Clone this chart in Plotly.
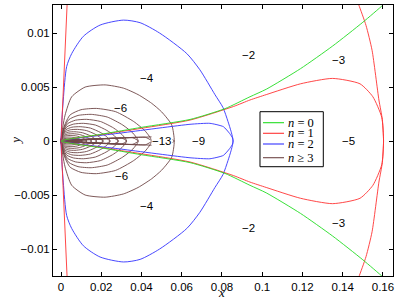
import plotly.graph_objects as go

# ---------------- data (upper halves, y >= 0) ----------------
# The figure is symmetric about y = 0; lower halves are the mirror images.

# n = 0 (green): branch from the origin to the upper right
GREEN_X = [0.0, 0.02, 0.04, 0.0641, 0.0815, 0.0939, 0.102, 0.119, 0.135, 0.150, 0.160, 0.1615]
GREEN_Y = [0.0, 0.00063, 0.00127, 0.0020, 0.0030, 0.0041, 0.0048, 0.0067, 0.0088, 0.0110, 0.0126, 0.0129]

# n = 1 (red): steep line on the left, closed loop to the right, outer right curve
RED_LEFT_X = [0.0, 0.0031]
RED_LEFT_Y = [0.0, 0.0130]
RED_LOOP_X = [0.0, 0.02, 0.04, 0.0641, 0.0857, 0.0939, 0.102, 0.119, 0.135, 0.1486, 0.155, 0.1594, 0.1603]
RED_LOOP_Y = [0.0, 0.0006, 0.00118, 0.00194, 0.0032, 0.0038, 0.0043, 0.0053, 0.0058, 0.0053, 0.0041, 0.0022, 0.0]
RED_OUTER_X = [0.1603, 0.1597, 0.158, 0.1546, 0.1516, 0.148, 0.1465]
RED_OUTER_Y = [0.0, 0.0020, 0.0038, 0.0084, 0.0107, 0.0126, 0.0133]

# n = 2 (blue): outer lobe and inner loop, meeting on the axis
BLUE_OUTER_X = [0.0, 0.0011, 0.0028, 0.0053, 0.0111, 0.0194, 0.031, 0.0393, 0.049,
                0.0625, 0.069, 0.0765, 0.0805, 0.083, 0.0845, 0.0853, 0.0855]
BLUE_OUTER_Y = [0.0, 0.0038, 0.0069, 0.0081, 0.0097, 0.01074, 0.0112, 0.01096, 0.0100,
                0.0081, 0.0066, 0.0043, 0.0031, 0.0018, 0.0009, 0.0003, 0.0]
BLUE_INNER_X = [0.0, 0.03, 0.0641, 0.074, 0.0807, 0.0838, 0.0852, 0.0855]
BLUE_INNER_Y = [0.0, 0.00075, 0.00155, 0.00164, 0.00133, 0.0007, 0.0003, 0.0]

# n >= 3 (brown): nested lobes (outer part) ...
BROWN_LOBES_X = [
    [0.0, 0.002, 0.0053, 0.012, 0.0219, 0.031, 0.0383, 0.045, 0.050, 0.055, 0.0563],
    [0.0, 0.0016, 0.0045, 0.0099, 0.0176, 0.0271, 0.0361, 0.0419, 0.0451],
    [0.0, 0.00134, 0.00384, 0.00845, 0.0150, 0.0230, 0.0307, 0.0357, 0.0384],
    [0.0, 0.00114, 0.00326, 0.00717, 0.0127, 0.0196, 0.0261, 0.0303, 0.0326],
    [0.0, 0.0010, 0.00285, 0.00627, 0.0111, 0.0171, 0.0228, 0.0265, 0.0285],
    [0.0, 0.00085, 0.00244, 0.00537, 0.0095, 0.0146, 0.0195, 0.0227, 0.0244],
    [0.0, 0.00074, 0.0021, 0.00462, 0.0082, 0.0126, 0.0168, 0.0195, 0.0210],
    [0.0, 0.00062, 0.00177, 0.0039, 0.0069, 0.0106, 0.0142, 0.0165, 0.0177],
    [0.0, 0.00053, 0.00152, 0.00334, 0.0059, 0.0091, 0.0122, 0.0141, 0.0152],
    [0.0, 0.00045, 0.00128, 0.0028, 0.0050, 0.0077, 0.0102, 0.0119, 0.0128],
    [0.0, 0.00037, 0.00106, 0.0023, 0.0041, 0.0064, 0.0085, 0.0099, 0.0106],
    [0.0, 0.0003, 0.00085, 0.0019, 0.0033, 0.0051, 0.0068, 0.0079, 0.0085],
    [0.0, 0.00023, 0.00065, 0.0014, 0.0025, 0.0039, 0.0052, 0.0060, 0.0065],
]
BROWN_LOBES_Y = [
    [0.0, 0.0024, 0.0041, 0.0050, 0.0052, 0.0049, 0.0043, 0.0035, 0.0027, 0.0015, 0.0],
    [0.0, 0.00139, 0.00242, 0.00290, 0.00302, 0.00272, 0.00181, 0.00091, 0.0],
    [0.0, 0.00114, 0.00198, 0.00237, 0.00247, 0.00222, 0.00148, 0.00074, 0.0],
    [0.0, 0.00092, 0.00161, 0.00193, 0.00201, 0.00181, 0.00121, 0.00060, 0.0],
    [0.0, 0.00075, 0.00131, 0.00157, 0.00164, 0.00148, 0.00098, 0.00049, 0.0],
    [0.0, 0.00061, 0.00106, 0.00128, 0.00133, 0.00120, 0.00080, 0.00040, 0.0],
    [0.0, 0.00050, 0.00086, 0.00104, 0.00108, 0.00097, 0.00065, 0.00032, 0.0],
    [0.0, 0.00040, 0.00069, 0.00083, 0.00086, 0.00077, 0.00052, 0.00026, 0.0],
    [0.0, 0.00031, 0.00054, 0.00065, 0.00068, 0.00061, 0.00041, 0.00020, 0.0],
    [0.0, 0.00024, 0.00042, 0.00050, 0.00052, 0.00047, 0.00031, 0.00016, 0.0],
    [0.0, 0.00017, 0.00030, 0.00036, 0.00037, 0.00033, 0.00022, 0.00011, 0.0],
    [0.0, 0.000115, 0.00020, 0.00024, 0.00025, 0.000225, 0.00015, 0.000075, 0.0],
    [0.0, 0.00007, 0.00012, 0.000144, 0.00015, 0.000135, 0.00009, 0.000045, 0.0],
]
# ... and thin inner loops along the axis
BROWN_LENS_X = [
    [0.0, 0.0169, 0.0394, 0.0524, 0.0563],
    [0.0, 0.0135, 0.0316, 0.0419, 0.0451],
    [0.0, 0.0115, 0.0269, 0.0357, 0.0384],
    [0.0, 0.0098, 0.0228, 0.0303, 0.0326],
    [0.0, 0.0086, 0.0200, 0.0265, 0.0285],
    [0.0, 0.0073, 0.0171, 0.0227, 0.0244],
    [0.0, 0.0063, 0.0147, 0.0195, 0.0210],
    [0.0, 0.0053, 0.0124, 0.0165, 0.0177],
    [0.0, 0.0046, 0.0106, 0.0141, 0.0152],
    [0.0, 0.0038, 0.0090, 0.0119, 0.0128],
    [0.0, 0.0032, 0.0074, 0.0099, 0.0106],
]
BROWN_LENS_Y = [
    [0.0, 0.00020, 0.00034, 0.00040, 0.0],
    [0.0, 0.000175, 0.00030, 0.00035, 0.0],
    [0.0, 0.00015, 0.000255, 0.00030, 0.0],
    [0.0, 0.000135, 0.00023, 0.00027, 0.0],
    [0.0, 0.00012, 0.00020, 0.00024, 0.0],
    [0.0, 0.00010, 0.00017, 0.00020, 0.0],
    [0.0, 0.000085, 0.000145, 0.00017, 0.0],
    [0.0, 0.00007, 0.00012, 0.00014, 0.0],
    [0.0, 0.00006, 0.00010, 0.00012, 0.0],
    [0.0, 0.00005, 0.000085, 0.00010, 0.0],
    [0.0, 0.00004, 0.00007, 0.00008, 0.0],
]

# region labels
LABEL_TEXT = ["−2", "−3", "−4", "−6", "−13", "−9", "−5", "−6", "−4", "−2", "−3"]
LABEL_X = [0.0931, 0.1378, 0.0426, 0.0297, 0.0500, 0.0685, 0.1428, 0.0302, 0.0426, 0.0931, 0.1378]
LABEL_Y = [0.0080, 0.0075, 0.0058, 0.0031, 0.0, 0.0, 0.0, -0.0032, -0.0060, -0.0081, -0.0076]

X_TICKS = [0, 0.02, 0.04, 0.06, 0.08, 0.1, 0.12, 0.14, 0.16]
X_TICK_TEXT = ["0", "0.02", "0.04", "0.06", "0.08", "0.1", "0.12", "0.14", "0.16"]
Y_TICKS = [-0.01, -0.005, 0, 0.005, 0.01]
Y_TICK_TEXT = ["−0.01", "−0.005", "0", "0.005", "0.01"]

LEGEND_NAMES = ["<i>n</i> = 0", "<i>n</i> = 1", "<i>n</i> = 2", "<i>n</i> ≥ 3"]
COLORS = ["#22dd22", "#ff3333", "#3333ff", "#6e4646"]


# ---------------- helpers: mirror upper halves ----------------
def closed_loop(xs, ys):
    """upper half from origin to axis point, then mirrored lower half back."""
    x = list(xs) + list(xs[::-1][1:])
    y = list(ys) + [-v for v in ys[::-1][1:]]
    return x, y


def through_origin(xs, ys):
    """lower branch (mirrored) into the origin, then upper branch out."""
    x = list(xs[::-1]) + list(xs[1:])
    y = [-v for v in ys[::-1]] + list(ys[1:])
    return x, y


def across_axis(xs, ys):
    """branch that starts on the axis: upper reversed, then mirrored lower."""
    x = list(xs[::-1]) + list(xs[1:])
    y = list(ys[::-1]) + [-v for v in ys[1:]]
    return x, y


fig = go.Figure()
LW = 0.9


def add(x, y, k, smooth=0.6, show=False):
    line = dict(color=COLORS[k], width=LW)
    if smooth:
        line.update(shape="spline", smoothing=smooth)
    fig.add_trace(go.Scatter(x=x, y=y, mode="lines", line=line, name=LEGEND_NAMES[k],
                             legendgroup=str(k), showlegend=show, hoverinfo="skip"))


# brown first (beneath)
for bx, by in zip(BROWN_LOBES_X, BROWN_LOBES_Y):
    x, y = closed_loop(bx, by)
    add(x, y, 3, 0.6)
for bx, by in zip(BROWN_LENS_X, BROWN_LENS_Y):
    x, y = closed_loop(bx, by)
    add(x, y, 3, 0.5)

# blue
x, y = closed_loop(BLUE_OUTER_X, BLUE_OUTER_Y)
add(x, y, 2, 0.7)
x, y = closed_loop(BLUE_INNER_X, BLUE_INNER_Y)
add(x, y, 2, 0.5)

# red
x, y = through_origin(RED_LEFT_X, RED_LEFT_Y)
add(x, y, 1, 0)
x, y = closed_loop(RED_LOOP_X, RED_LOOP_Y)
add(x, y, 1, 0.6)
x, y = across_axis(RED_OUTER_X, RED_OUTER_Y)
add(x, y, 1, 0.6)

# green
x, y = through_origin(GREEN_X, GREEN_Y)
add(x, y, 0, 0.6)

# ---- compact legend box (MATLAB style), drawn in paper coordinates ----
LEG_BOX = dict(x0=0.6088, x1=0.795, y0=0.4033, y1=0.6063)
LEG_ROWS = [0.5657, 0.5266, 0.4871, 0.4365]
fig.add_shape(type="rect", xref="paper", yref="paper", line=dict(color="black", width=1),
              fillcolor="white", layer="above", **LEG_BOX)
for k, ry in enumerate(LEG_ROWS):
    fig.add_shape(type="line", xref="paper", yref="paper", x0=0.6176, x1=0.6794, y0=ry, y1=ry,
                  line=dict(color=COLORS[k], width=1.1), layer="above")
    fig.add_annotation(xref="paper", yref="paper", x=0.686, y=ry, text=LEGEND_NAMES[k],
                       showarrow=False, xanchor="left", yanchor="middle",
                       font=dict(family="Liberation Serif, serif", size=12.5, color="black"))

for t, lx, ly in zip(LABEL_TEXT, LABEL_X, LABEL_Y):
    fig.add_annotation(x=lx, y=ly, text=t, showarrow=False,
                       font=dict(family="Liberation Sans, Arial", size=11.5, color="black"),
                       bgcolor="white" if ly == 0 else "rgba(0,0,0,0)", borderpad=0)

# axis titles
fig.add_annotation(xref="paper", yref="paper", x=0.497, y=-0.062, text="<i>x</i>",
                   showarrow=False, yanchor="middle",
                   font=dict(family="Liberation Serif, serif", size=13, color="black"))
fig.add_annotation(xref="paper", yref="paper", x=-0.139, y=0.5, text="<i>y</i>",
                   showarrow=False, textangle=-90,
                   font=dict(family="Liberation Serif, serif", size=13, color="black"))

axis_common = dict(showline=True, linecolor="black", linewidth=1, mirror="ticks",
                   ticks="inside", ticklen=4, tickcolor="black", tickwidth=1,
                   showgrid=False, zeroline=False, automargin=False,
                   tickfont=dict(family="Liberation Sans, Arial", size=11.5, color="black"))

fig.update_layout(
    width=399, height=301,
    margin=dict(l=53, r=6, t=5, b=25, autoexpand=False),
    paper_bgcolor="white", plot_bgcolor="white",
    xaxis=dict(range=[-0.004, 0.165], tickvals=X_TICKS, ticktext=X_TICK_TEXT, **axis_common),
    yaxis=dict(range=[-0.0125, 0.0126], tickvals=Y_TICKS, ticktext=Y_TICK_TEXT, **axis_common),
    showlegend=False,
)

fig.write_html("out.html", config={"displayModeBar": False},
               post_script="document.body.style.margin='0';")
